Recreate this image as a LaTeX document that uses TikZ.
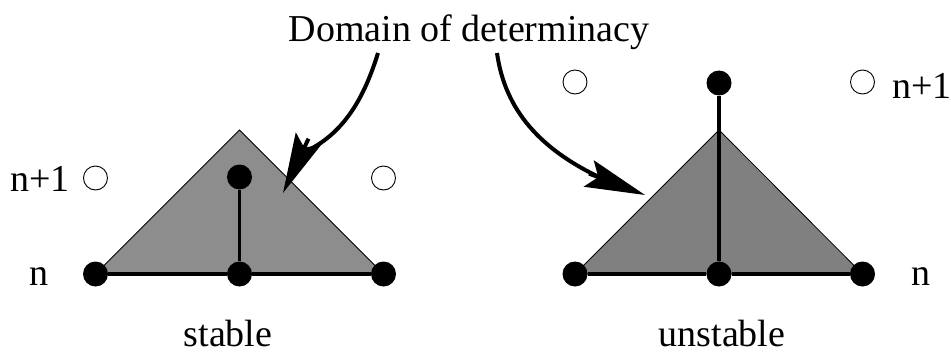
\documentclass[tikz,border=0pt]{standalone}
\usepackage{fontspec}
\setmainfont{Liberation Serif}
\usetikzlibrary{arrows.meta}
\definecolor{stableGray}{RGB}{141,141,141}
\definecolor{unstableGray}{RGB}{128,128,128}
\begin{document}
\begin{tikzpicture}[x=1pt,y=-1pt,
  dot/.style={circle,fill=black,inner sep=0pt,minimum size=25pt},
  odot/.style={circle,draw=black,line width=0.9pt,fill=white,inner sep=0pt,minimum size=24pt},
  lbl/.style={inner sep=0pt,font=\fontsize{38}{40}\selectfont},
  link/.style={line width=3.2pt},
  cone/.style={draw=black,line width=0.8pt},
  shaft/.style={line width=4pt},
  head/.style={line width=4pt,-{Stealth[length=60pt,width=28pt,inset=10pt]}}
]
\useasboundingbox (0,0) rectangle (951,353);

% ---------- stable ----------
\coordinate (s1c) at (95.5,274);
\coordinate (s2c) at (239.5,274);
\coordinate (s3c) at (383.5,274);
\coordinate (sapex) at (239.5,130);
\filldraw[cone,fill=stableGray] (s1c) -- (sapex) -- (s3c) -- cycle;
\node[dot] (s1) at (s1c) {};
\node[dot] (s2) at (s2c) {};
\node[dot] (s3) at (s3c) {};
\node[dot] (s4) at (239.5,177) {};
\node[odot] (so1) at (95.5,178) {};
\node[odot] (so2) at (383.5,178) {};
\draw[link] (s1) -- (s2);
\draw[link] (s2) -- (s3);
\draw[link] (s2) -- (s4);

% ---------- unstable ----------
\coordinate (u1c) at (575,274);
\coordinate (u2c) at (719,274);
\coordinate (u3c) at (862.5,274);
\coordinate (uapex) at (719,130);
\filldraw[cone,fill=unstableGray] (u1c) -- (uapex) -- (u3c) -- cycle;
\node[dot] (u1) at (u1c) {};
\node[dot] (u2) at (u2c) {};
\node[dot] (u3) at (u3c) {};
\node[dot] (u4) at (719,83) {};
\node[odot] (uo1) at (575,82) {};
\node[odot] (uo2) at (862.5,82) {};
\draw[link] (u1) -- (u2);
\draw[link] (u2) -- (u3);
\draw[link] (u2) -- (u4);

% ---------- labels ----------
\node[lbl,anchor=base] (dom) at (469,42) {Domain of determinacy};
\node[lbl,anchor=base] (stab) at (228,346) {stable};
\node[lbl,anchor=base] (unstab) at (722,346) {unstable};
\node[lbl,anchor=base east] (ln1) at (70,191) {n+1};
\node[lbl,anchor=base] (ln) at (39,285) {n};
\node[lbl,anchor=base west] (rn1) at (892,99) {n+1};
\node[lbl,anchor=base] (rn) at (921,285) {n};

% ---------- arrows ----------
\coordinate (la) at (378,53);
\coordinate (ltip) at (283,193);
\coordinate (lnotch) at (301.7,153.2);
\coordinate (lhb) at (308.5,138.7);
\draw[shaft] (la) .. controls (365,95) and (345,135) .. (lnotch);
\draw[head] (lhb) -- (ltip);

\coordinate (ra) at (497,53);
\coordinate (rtip) at (645,195);
\coordinate (rnotch) at (603.9,179.3);
\coordinate (rhb) at (589,173.6);
\draw[shaft] (ra) .. controls (505,110) and (540,150) .. (rnotch);
\draw[head] (rhb) -- (rtip);
\end{tikzpicture}
\end{document}
